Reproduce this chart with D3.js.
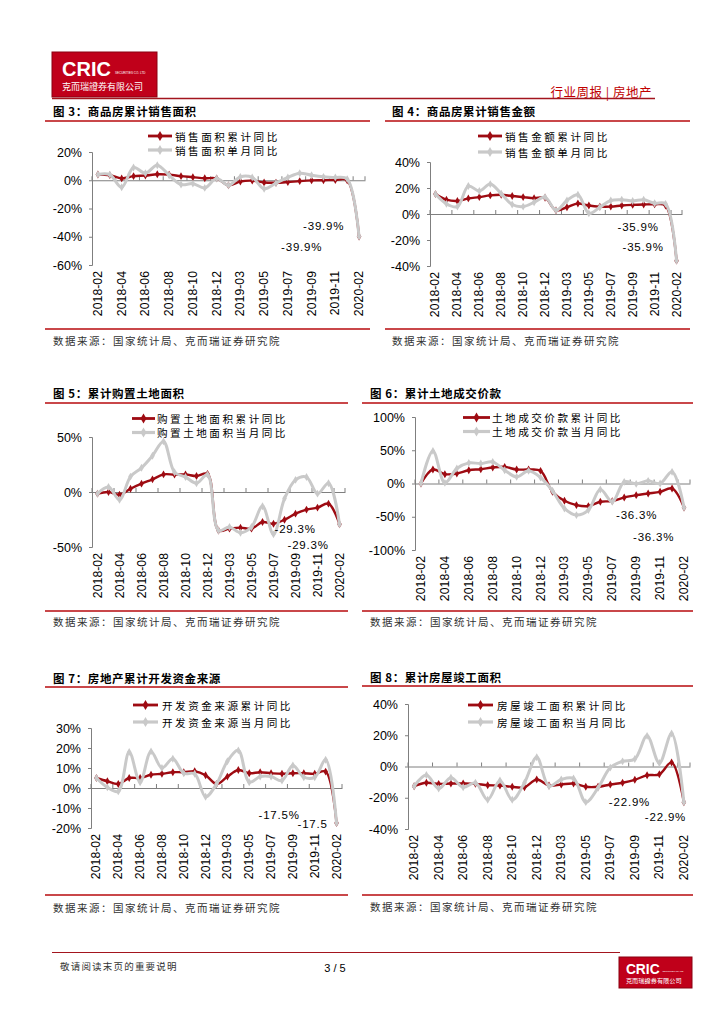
<!DOCTYPE html>
<html><head><meta charset="utf-8">
<script src="https://cdn.jsdelivr.net/npm/d3@7/dist/d3.min.js"></script>
<style>body{margin:0;background:#fff}svg{display:block}</style>
</head><body>
<svg id="page" width="724" height="1024"></svg>
<script>
// ---------- DATA ----------
const categories = ["2018-02","2018-03","2018-04","2018-05","2018-06","2018-07","2018-08","2018-09","2018-10","2018-11","2018-12",
  "2019-02","2019-03","2019-04","2019-05","2019-06","2019-07","2019-08","2019-09","2019-10","2019-11","2019-12","2020-02"];
const tickLabels = categories.filter((d,i)=>i%2===0);

const areaCum   = [4.1,3.6,1.3,2.9,3.3,4.2,4.0,2.9,2.2,1.4,1.3,-3.6,-0.9,-0.3,-1.6,-1.8,-1.3,-0.6,-0.1,0.0,0.2,-0.1,-39.9];
const areaMon   = [4.1,4.0,-5.0,9.0,5.0,10.6,3.5,-3.0,-2.4,-5.4,1.2,-3.6,2.4,2.0,-6.0,-2.0,2.0,5.0,3.5,2.4,2.0,0.8,-39.9];
const amountCum = [15.3,11.0,10.0,12.0,13.0,14.3,14.8,13.8,13.0,12.2,12.5,2.8,5.2,8.1,6.5,5.7,5.7,6.5,7.0,7.3,7.5,6.5,-35.9];
const amountMon = [15.3,7.8,5.7,21.5,17.7,23.0,15.6,7.3,5.7,9.0,13.0,2.8,10.4,14.8,0.5,5.2,10.4,11.0,10.0,11.0,8.3,7.8,-35.9];
const landAreaCum = [-1.5,0.0,-2.5,3.0,7.6,11.5,16.0,15.8,16.0,14.5,16.5,-35.0,-33.3,-32.4,-33.3,-27.3,-28.8,-25.2,-19.7,-16.0,-14.2,-10.6,-29.3];
const landAreaMon = [-1.5,4.5,-7.0,14.0,22.0,33.0,46.0,18.0,13.6,8.0,15.8,-35.0,-31.8,-37.0,-31.8,-13.0,-38.5,-6.0,11.0,13.6,-1.5,8.0,-29.3];
const landPriceCum = [0.0,21.0,14.0,15.0,20.0,21.5,24.0,25.0,21.0,21.0,19.0,-12.5,-26.0,-32.5,-34.0,-27.5,-26.5,-21.0,-17.5,-15.0,-12.5,-7.5,-36.3];
const landPriceMon = [0.0,49.0,1.0,22.5,31.0,30.0,32.5,20.0,10.0,19.0,9.0,-11.0,-37.5,-47.5,-40.0,-9.0,-27.5,2.5,-0.5,4.0,0.0,17.5,-36.3];
const fundCum = [5.0,3.4,2.0,5.0,5.0,6.6,7.1,7.9,7.9,8.4,6.4,2.0,5.7,9.0,7.4,7.9,7.4,7.1,7.4,7.4,7.1,8.2,-17.5];
const fundMon = [5.0,0.3,-1.7,18.0,2.9,18.3,10.0,14.6,7.4,7.1,-4.4,2.0,13.4,18.8,2.9,5.7,5.7,3.7,11.3,5.4,5.4,14.1,-17.5];
const compCum = [-12.6,-10.4,-11.1,-10.9,-10.9,-11.1,-12.0,-12.2,-13.0,-13.3,-8.3,-12.2,-11.5,-10.9,-13.0,-13.0,-11.5,-10.4,-8.5,-5.6,-5.0,2.6,-22.9];
const compMon = [-12.6,-5.4,-14.1,-7.2,-13.3,-10.4,-21.3,-8.9,-21.3,-10.4,5.9,-12.6,-8.3,-7.6,-22.8,-13.7,-0.7,3.3,4.8,19.6,2.2,21.1,-22.9];

const ticks3 = [20,0,-20,-40,-60];
const ticks4 = [40,20,0,-20,-40];
const ticks5 = [50,0,-50];
const ticks6 = [100,50,0,-50,-100];
const ticks7 = [30,20,10,0,-10,-20];
const ticks8 = [40,20,0,-20,-40];

const titles = ["图 3：商品房累计销售面积","图 4：商品房累计销售金额","图 5：累计购置土地面积","图 6：累计土地成交价款","图 7：房地产累计开发资金来源","图 8：累计房屋竣工面积"];
const legendCum = ["销售面积累计同比","销售金额累计同比","购置土地面积累计同比","土地成交价款累计同比","开发资金来源累计同比","房屋竣工面积累计同比"];
const legendMon = ["销售面积单月同比","销售金额单月同比","购置土地面积当月同比","土地成交价款当月同比","开发资金来源当月同比","房屋竣工面积当月同比"];
const annotations = [["-39.9%","-39.9%"],["-35.9%","-35.9%"],["-29.3%","-29.3%"],["-36.3%","-36.3%"],["-17.5%","-17.5"],["-22.9%","-22.9%"]];
const sourceText = "数据来源：国家统计局、克而瑞证券研究院";

// ---------- LAYOUT (styles / positions only) ----------
const layout = [
 {cum:areaCum, mon:areaMon, ticks:ticks3, x0:92, x1:365, yT:152, yB:265, tx:53, ty:111, line:[45,370], lty:121, sy:329, sty:340, lg:[148,172,175,136,150], ann:[[-56,-10.5],[-78,10.5]]},
 {cum:amountCum, mon:amountMon, ticks:ticks4, x0:430, x1:682, yT:162, yB:266, tx:392, ty:111, line:[385,690], lty:121, sy:329, sty:340, lg:[478,502,505,136,152], ann:[[-59,-33.6],[-54,-13.6]]},
 {cum:landAreaCum, mon:landAreaMon, ticks:ticks5, x0:92, x1:345, yT:437, yB:547, tx:53, ty:393, line:[45,348], lty:403, sy:611, sty:621, lg:[132,155,157,418.5,432.5], ann:[[-65,5],[-52,21]]},
 {cum:landPriceCum, mon:landPriceMon, ticks:ticks6, x0:415, x1:690, yT:417, yB:550, tx:370, ty:393, line:[362,693], lty:403, sy:611, sty:621, lg:[463,490,492,417.5,431.5], ann:[[-68,7.5],[-51,29.5]]},
 {cum:fundCum, mon:fundMon, ticks:ticks7, x0:91, x1:342, yT:728, yB:828, tx:53, ty:678, line:[45,348], lty:687, sy:895, sty:907, lg:[133,158,162,705,722], ann:[[-78,-8],[-39,0.7]]},
 {cum:compCum, mon:compMon, ticks:ticks8, x0:408, x1:690, yT:704, yB:829, tx:370, ty:677, line:[362,693], lty:686, sy:895, sty:906, lg:[468,493,497,705,722], ann:[[-75,0],[-39,15]]}
];

const RED = "#9E0B12", GREY = "#C9C9C9", LINE_RED = "#C9474A";
const CJK = "'Noto Sans CJK SC','Noto Sans',sans-serif";
const LAT = "'Liberation Sans',Arial,sans-serif";

const svg = d3.select("#page");

// ---------- HEADER ----------
function logo(g, x, y, w, h, s) {
  g.append("rect").attr("x",x).attr("y",y).attr("width",w).attr("height",h).attr("fill","#C0001A").attr("stroke","#8A0010").attr("stroke-width",1);
  g.append("text").attr("x",x+10*s).attr("y",y+24*s).attr("fill","#fff").attr("font-family",LAT).attr("font-weight","bold").attr("font-size",20*s).text("CRIC");
  g.append("text").attr("x",x+63*s).attr("y",y+22*s).attr("fill","#fff").attr("font-family",LAT).attr("font-size",3*s).text("SECURITIES CO. LTD");
  g.append("text").attr("x",x+10*s).attr("y",y+38*s).attr("fill","#fff").attr("font-family",CJK).attr("font-size",9*s).text("克而瑞證券有限公司");
}
logo(svg, 52, 52, 105, 45, 1);
svg.append("text").attr("x",652).attr("y",91).attr("text-anchor","end").attr("fill","#C00000")
  .attr("font-family",CJK).attr("font-size",12.5).attr("letter-spacing",0.5).attr("dominant-baseline","central").text("行业周报 | 房地产");
svg.append("line").attr("x1",52).attr("x2",655).attr("y1",98.5).attr("y2",98.5).attr("stroke","#A3151E").attr("stroke-width",1.5);

// ---------- CHARTS ----------
layout.forEach((c, k) => {
  const g = svg.append("g");
  // title + rules
  g.append("text").attr("x",c.tx).attr("y",c.ty).attr("dominant-baseline","central").attr("font-family",CJK)
    .attr("font-weight","bold").attr("font-size",11.5).attr("letter-spacing",0.6).attr("fill","#000").text(titles[k]);
  g.append("line").attr("x1",c.line[0]).attr("x2",c.line[1]).attr("y1",c.lty).attr("y2",c.lty).attr("stroke",LINE_RED).attr("stroke-width",2);
  g.append("line").attr("x1",c.line[0]).attr("x2",c.line[1]).attr("y1",c.sy).attr("y2",c.sy).attr("stroke",LINE_RED).attr("stroke-width",2);
  g.append("text").attr("x",c.tx).attr("y",c.sty).attr("dominant-baseline","central").attr("font-family",CJK)
    .attr("font-size",10.5).attr("letter-spacing",1.5).attr("fill","#333").text(sourceText);

  const x = d3.scaleBand().domain(categories).range([c.x0, c.x1]).padding(0);
  const y = d3.scaleLinear().domain([d3.min(c.ticks), d3.max(c.ticks)]).range([c.yB, c.yT]);

  // y axis
  const ya = g.append("g").attr("transform",`translate(${c.x0},0)`)
    .call(d3.axisLeft(y).tickValues(c.ticks).tickSize(3).tickFormat(d=>d+"%"));
  ya.select(".domain").attr("stroke","#7f7f7f");
  ya.selectAll(".tick line").attr("stroke","#7f7f7f");
  ya.selectAll("text").attr("font-family",LAT).attr("font-size",12.5).attr("fill","#000").attr("x",-10);

  // x axis at zero
  const xa = g.append("g").attr("transform",`translate(0,${y(0)})`)
    .call(d3.axisTop(x).tickValues([]).tickSizeOuter(0));
  xa.select(".domain").attr("stroke","#7f7f7f");
  const bounds = d3.range(0, categories.length+1, 2).map(i => c.x0 + i*x.bandwidth());
  bounds.push(c.x1);
  g.selectAll(".xt"+k).data(bounds).join("line").attr("x1",d=>d).attr("x2",d=>d)
    .attr("y1",y(0)).attr("y2",y(0)-4).attr("stroke","#7f7f7f");
  // category labels at bottom
  g.selectAll(".xl"+k).data(tickLabels).join("text")
    .attr("transform",d=>`translate(${x(d)+x.bandwidth()/2},${c.yB+6}) rotate(-90)`)
    .attr("text-anchor","end").attr("dominant-baseline","central")
    .attr("font-family",LAT).attr("font-size",12.3).attr("fill","#000").text(d=>d);

  const line = d3.line().x((d,i)=>x(categories[i])+x.bandwidth()/2).y(d=>y(d)).curve(d3.curveCatmullRom.alpha(0.5));
  const sym = d3.symbol(d3.symbolDiamond).size(18);

  // cumulative (red)
  g.append("path").attr("d",line(c.cum)).attr("fill","none").attr("stroke",RED).attr("stroke-width",2.4);
  g.selectAll(".mc"+k).data(c.cum).join("path").attr("d",sym)
    .attr("transform",(d,i)=>`translate(${x(categories[i])+x.bandwidth()/2},${y(d)})`).attr("fill",RED);
  // monthly (grey)
  g.append("path").attr("d",line(c.mon)).attr("fill","none").attr("stroke",GREY).attr("stroke-width",3);
  g.selectAll(".mm"+k).data(c.mon).join("path").attr("d",sym)
    .attr("transform",(d,i)=>`translate(${x(categories[i])+x.bandwidth()/2},${y(d)})`).attr("fill",GREY);

  // legend
  const [l0,l1,lt,ly1,ly2] = c.lg;
  [[RED,2.8,ly1,legendCum[k]],[GREY,3.2,ly2,legendMon[k]]].forEach(([col,w,ly,txt])=>{
    g.append("line").attr("x1",l0).attr("x2",l1).attr("y1",ly).attr("y2",ly).attr("stroke",col).attr("stroke-width",w);
    g.append("path").attr("d",d3.symbol(d3.symbolDiamond).size(30)).attr("transform",`translate(${(l0+l1)/2},${ly})`).attr("fill",col);
    g.append("text").attr("x",lt).attr("y",ly).attr("dominant-baseline","central").attr("font-family",CJK)
      .attr("font-size",10.6).attr("letter-spacing",2.5).attr("fill","#000").text(txt);
  });

  // annotations near last point
  const n = categories.length-1;
  const px = x(categories[n])+x.bandwidth()/2;
  [c.cum[n], c.mon[n]].forEach((v,j)=>{
    g.append("text").attr("x",px+c.ann[j][0]).attr("y",y(v)+c.ann[j][1]).attr("dominant-baseline","central")
      .attr("font-family",LAT).attr("font-size",11.5).attr("letter-spacing",0.8).attr("fill","#000").text(annotations[k][j]);
  });
});

// ---------- FOOTER ----------
svg.append("line").attr("x1",52).attr("x2",620).attr("y1",952.5).attr("y2",952.5).attr("stroke","#A3151E").attr("stroke-width",1.2);
svg.append("text").attr("x",60).attr("y",966).attr("dominant-baseline","central").attr("font-family",CJK).attr("font-size",9.5).attr("letter-spacing",1.2).attr("fill","#333").text("敬请阅读末页的重要说明");
svg.append("text").attr("x",335).attr("y",968).attr("text-anchor","middle").attr("dominant-baseline","central").attr("font-family",LAT).attr("font-size",11).attr("fill","#000").text("3 / 5");
logo(svg, 619, 957, 73, 31, 0.69);
</script>
</body></html>
